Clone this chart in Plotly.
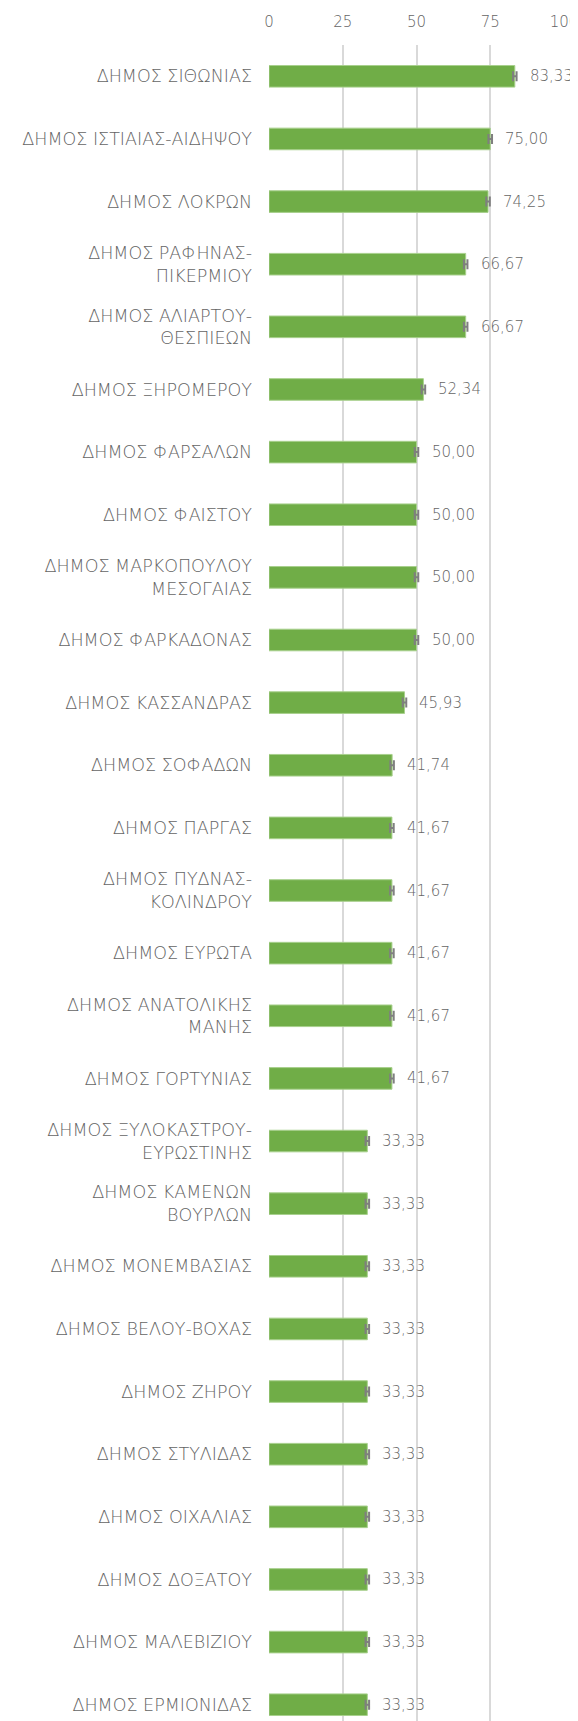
import plotly.graph_objects as go

categories = [
    "ΔΗΜΟΣ ΣΙΘΩΝΙΑΣ",
    "ΔΗΜΟΣ ΙΣΤΙΑΙΑΣ-ΑΙΔΗΨΟΥ",
    "ΔΗΜΟΣ ΛΟΚΡΩΝ",
    "ΔΗΜΟΣ ΡΑΦΗΝΑΣ-<br>ΠΙΚΕΡΜΙΟΥ",
    "ΔΗΜΟΣ ΑΛΙΑΡΤΟΥ-<br>ΘΕΣΠΙΕΩΝ",
    "ΔΗΜΟΣ ΞΗΡΟΜΕΡΟΥ",
    "ΔΗΜΟΣ ΦΑΡΣΑΛΩΝ",
    "ΔΗΜΟΣ ΦΑΙΣΤΟΥ",
    "ΔΗΜΟΣ ΜΑΡΚΟΠΟΥΛΟΥ<br>ΜΕΣΟΓΑΙΑΣ",
    "ΔΗΜΟΣ ΦΑΡΚΑΔΟΝΑΣ",
    "ΔΗΜΟΣ ΚΑΣΣΑΝΔΡΑΣ",
    "ΔΗΜΟΣ ΣΟΦΑΔΩΝ",
    "ΔΗΜΟΣ ΠΑΡΓΑΣ",
    "ΔΗΜΟΣ ΠΥΔΝΑΣ-<br>ΚΟΛΙΝΔΡΟΥ",
    "ΔΗΜΟΣ ΕΥΡΩΤΑ",
    "ΔΗΜΟΣ ΑΝΑΤΟΛΙΚΗΣ<br>ΜΑΝΗΣ",
    "ΔΗΜΟΣ ΓΟΡΤΥΝΙΑΣ",
    "ΔΗΜΟΣ ΞΥΛΟΚΑΣΤΡΟΥ-<br>ΕΥΡΩΣΤΙΝΗΣ",
    "ΔΗΜΟΣ ΚΑΜΕΝΩΝ<br>ΒΟΥΡΛΩΝ",
    "ΔΗΜΟΣ ΜΟΝΕΜΒΑΣΙΑΣ",
    "ΔΗΜΟΣ ΒΕΛΟΥ-ΒΟΧΑΣ",
    "ΔΗΜΟΣ ΖΗΡΟΥ",
    "ΔΗΜΟΣ ΣΤΥΛΙΔΑΣ",
    "ΔΗΜΟΣ ΟΙΧΑΛΙΑΣ",
    "ΔΗΜΟΣ ΔΟΞΑΤΟΥ",
    "ΔΗΜΟΣ ΜΑΛΕΒΙΖΙΟΥ",
    "ΔΗΜΟΣ ΕΡΜΙΟΝΙΔΑΣ",
]

values = [83.33, 75.00, 74.25, 66.67, 66.67, 52.34, 50.00, 50.00, 50.00, 50.00,
          45.93, 41.74, 41.67, 41.67, 41.67, 41.67, 41.67, 33.33, 33.33, 33.33,
          33.33, 33.33, 33.33, 33.33, 33.33, 33.33, 33.33]

errors = [0.6] * len(values)

tick_values = [0, 25, 50, 75, 100]
tick_labels = ["0", "25", "50", "75", "100"]

labels = [f"{v:.2f}".replace(".", ",") for v in values]

FONT = "'DejaVu Sans', 'Open Sans', sans-serif"
TXT = "#646464"
CAT_FONT = dict(family=FONT, size=17.5, color=TXT, weight=200)
NUM_FONT = dict(family=FONT, size=15, color=TXT, weight=200)

fig = go.Figure()
fig.add_trace(go.Bar(
    y=categories,
    x=values,
    orientation="h",
    marker=dict(color="#70AD47", line=dict(color="#a8d08d", width=1)),
    error_x=dict(type="data", array=errors, visible=True, color="#7f7f7f",
                 thickness=2, width=5),
    width=0.345,
    hoverinfo="skip",
))

for c, v, t in zip(categories, values, labels):
    fig.add_annotation(x=v, y=c, text=t, showarrow=False, xanchor="left",
                       xshift=13, font=NUM_FONT)

# the page body adds an 8px margin at left/top; sizes compensate for it
fig.update_layout(
    width=570, height=1713,
    margin=dict(l=261, r=14, t=37, b=0),
    paper_bgcolor="white", plot_bgcolor="white",
    showlegend=False,
    font=CAT_FONT,
    xaxis=dict(
        side="top", range=[0, 100], tickvals=tick_values, ticktext=tick_labels,
        showgrid=True, gridcolor="#d9d9d9", gridwidth=1.5,
        zeroline=False, showline=False, ticks="", ticklabelstandoff=14,
        ticklabeloverflow="allow", tickfont=NUM_FONT,
    ),
    yaxis=dict(
        type="category", range=[26.26, -0.5], showgrid=False, zeroline=False,
        showline=False, ticks="", ticklabelstandoff=16,
        tickfont=CAT_FONT,
    ),
)

fig.write_html("out.html")
